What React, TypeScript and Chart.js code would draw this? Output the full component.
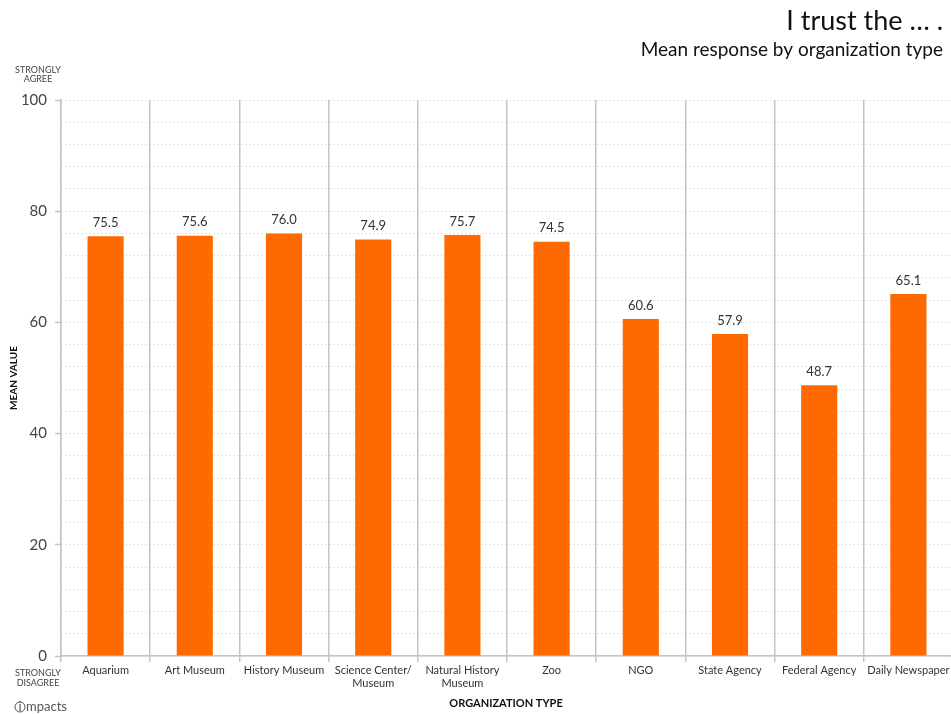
import React, { useEffect, useRef } from 'react';
import { Chart, registerables } from 'chart.js';

Chart.register(...registerables);

const categories: (string | string[])[] = [
  'Aquarium',
  'Art Museum',
  'History Museum',
  ['Science Center/', 'Museum'],
  ['Natural History', 'Museum'],
  'Zoo',
  'NGO',
  'State Agency',
  'Federal Agency',
  'Daily Newspaper',
];
const meanValues = [75.5, 75.6, 76.0, 74.9, 75.7, 74.5, 60.6, 57.9, 48.7, 65.1];
const majorTicks = [0, 20, 40, 60, 80, 100];
const titleText = 'I trust the \u2026 .';
const subtitleText = 'Mean response by organization type';
const xAxisTitle = 'ORGANIZATION TYPE';
const yAxisTitle = 'MEAN VALUE';
const topNote = ['STRONGLY', 'AGREE'];
const bottomNote = ['STRONGLY', 'DISAGREE'];

const FONT = 'Lato, "Open Sans", sans-serif';
const BAR = '#FF6A00';
const GRID = '#c4c4c4';

const decorPlugin = {
  id: 'decor',
  afterDatasetsDraw(chart: any) {
    const ctx = chart.ctx as CanvasRenderingContext2D;
    const meta = chart.getDatasetMeta(0);
    ctx.save();
    ctx.fillStyle = '#333';
    ctx.font = `13px ${FONT}`;
    ctx.textAlign = 'center';
    ctx.textBaseline = 'bottom';
    meta.data.forEach((bar: any, i: number) => {
      ctx.fillText(meanValues[i].toFixed(1), bar.x, bar.y - 7);
    });
    ctx.restore();
  },
  afterDraw(chart: any) {
    const ctx = chart.ctx as CanvasRenderingContext2D;
    const area = chart.chartArea;
    const yScale = chart.scales.y;
    ctx.save();
    ctx.fillStyle = '#111';
    ctx.textAlign = 'right';
    ctx.textBaseline = 'alphabetic';
    ctx.font = `27px ${FONT}`;
    ctx.fillText(titleText, 943, 30);
    ctx.font = `19px ${FONT}`;
    ctx.fillText(subtitleText, 943, 56);

    ctx.fillStyle = '#444';
    ctx.font = `9px ${FONT}`;
    ctx.textAlign = 'center';
    ctx.textBaseline = 'middle';
    const yTop = yScale.getPixelForValue(100);
    const yBot = yScale.getPixelForValue(0);
    ctx.fillText(topNote[0], 38, yTop - 30);
    ctx.fillText(topNote[1], 38, yTop - 21);
    ctx.fillText(bottomNote[0], 38, yBot + 17);
    ctx.fillText(bottomNote[1], 38, yBot + 27);

    ctx.fillStyle = '#111';
    ctx.font = `bold 11px ${FONT}`;
    ctx.fillText(xAxisTitle, (area.left + 953) / 2 - 1, 703);
    ctx.save();
    ctx.translate(14, (area.top + area.bottom) / 2);
    ctx.rotate(-Math.PI / 2);
    ctx.font = `bold 10px ${FONT}`;
    ctx.fillText(yAxisTitle, 0, 0);
    ctx.restore();

    ctx.fillStyle = '#555';
    ctx.font = `13px ${FONT}`;
    ctx.textAlign = 'left';
    ctx.textBaseline = 'alphabetic';
    ctx.strokeStyle = '#555';
    ctx.lineWidth = 1;
    ctx.beginPath();
    ctx.arc(20, 707, 5, 0, Math.PI * 2);
    ctx.stroke();
    ctx.fillText('i', 18.5, 711);
    ctx.fillText('mpacts', 26, 711);
    ctx.restore();
  },
};

export default function App() {
  const ref = useRef<HTMLCanvasElement | null>(null);
  useEffect(() => {
    document.body.style.margin = '0';
    if (!ref.current) return;
    const chart = new Chart(ref.current, {
      type: 'bar',
      data: {
        labels: categories as any,
        datasets: [
          {
            data: meanValues,
            backgroundColor: BAR,
            borderWidth: 0,
            barPercentage: 0.405,
            categoryPercentage: 1,
          },
        ],
      },
      options: {
        responsive: false,
        animation: false,
        layout: { padding: { top: 100, left: 0, right: 0, bottom: 0 } },
        plugins: {
          legend: { display: false },
          tooltip: { enabled: false },
          title: { display: false },
        },
        scales: {
          x: {
            afterFit: (s: any) => {
              s.height = 58;
            },
            grid: {
              display: true,
              color: GRID,
              lineWidth: 1.5,
              drawTicks: true,
              tickLength: 6,
              tickColor: GRID,
              offset: true,
            },
            border: { display: true, color: GRID, width: 1.5 },
            ticks: {
              color: '#333',
              padding: 2,
              autoSkip: false,
              maxRotation: 0,
              font: { family: FONT, size: 11, lineHeight: 1.2 },
            },
          },
          y: {
            min: 0,
            max: 100,
            afterFit: (s: any) => {
              s.width = 61;
            },
            afterBuildTicks: (s: any) => {
              const t = [];
              for (let v = 0; v <= 100; v += 4) t.push({ value: v });
              s.ticks = t;
            },
            grid: {
              color: '#c8c8c8',
              lineWidth: 1,
              drawTicks: true,
              tickLength: 6,
              tickColor: (c: any) =>
                c.tick && majorTicks.includes(c.tick.value) ? GRID : 'rgba(0,0,0,0)',
              tickWidth: 1.5,
            },
            border: { display: true, color: GRID, width: 1.5, dash: [1, 3] },
            ticks: {
              autoSkip: false,
              color: '#444',
              padding: 8,
              font: { family: FONT, size: 15 },
              callback: (v: any) => (majorTicks.includes(Number(v)) ? String(v) : ''),
            },
          },
        },
      },
      plugins: [decorPlugin],
    });
    return () => chart.destroy();
  }, []);
  return (
    <div
      style={{
        position: 'absolute',
        left: 0,
        top: 0,
        width: 951,
        height: 714,
        overflow: 'hidden',
        background: '#fff',
      }}
    >
      <canvas ref={ref} width={953} height={714} style={{ display: 'block' }} />
    </div>
  );
}
